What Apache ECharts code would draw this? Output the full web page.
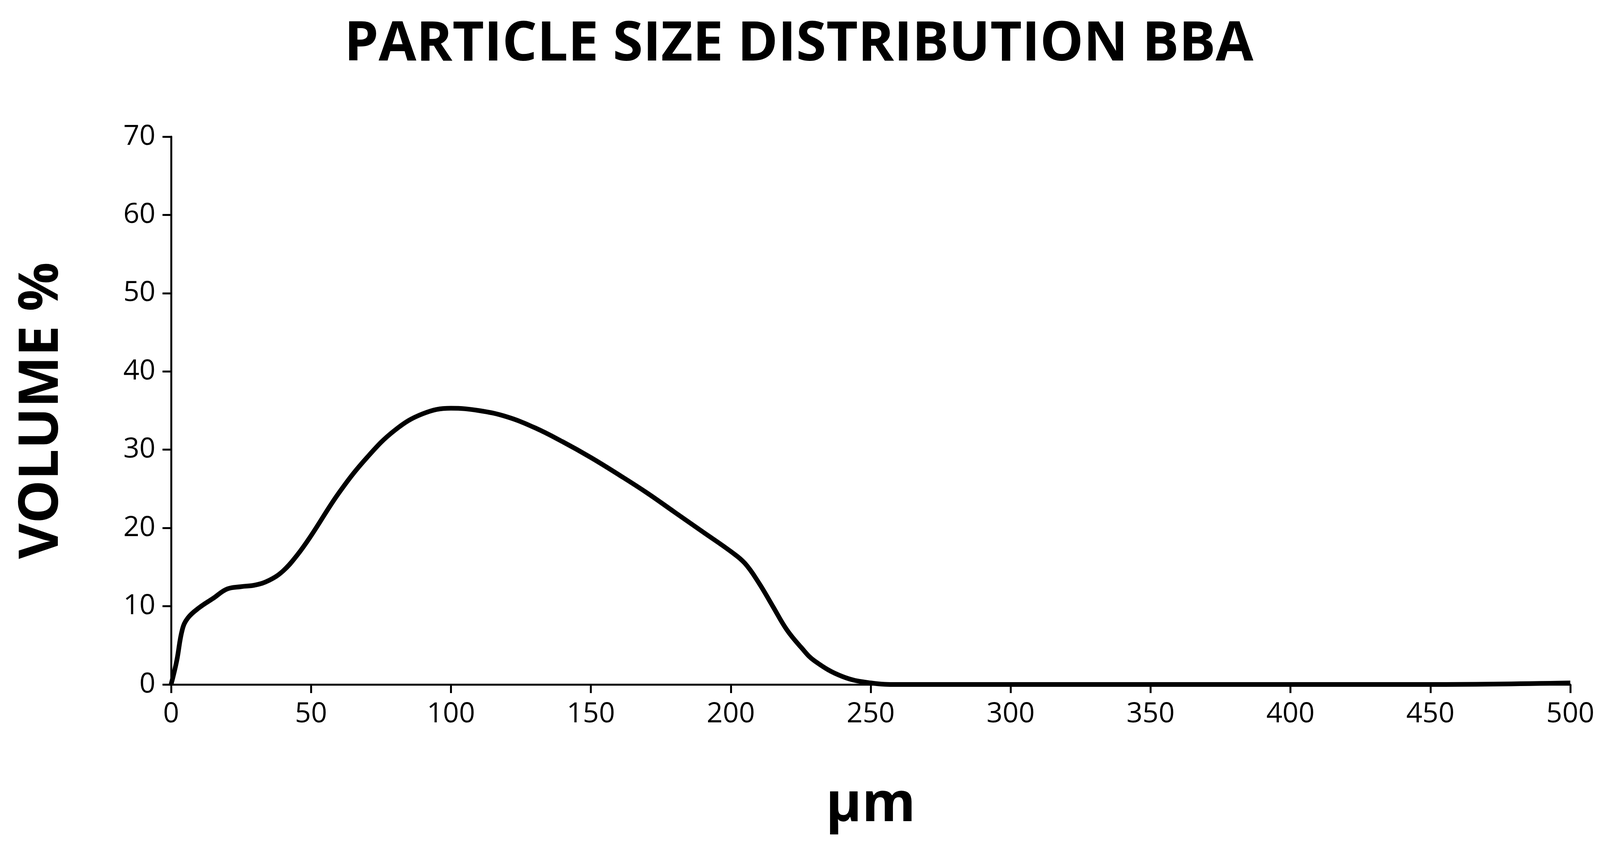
<!DOCTYPE html><html><head><meta charset="utf-8"><script src="https://cdn.jsdelivr.net/npm/echarts@6/dist/echarts.min.js"></script>
<style>html,body{margin:0;background:#fff}#c{width:4141px;height:2223px}</style></head><body><div id="c"></div><script>
const sizes=[0,2,4,6,10,15,20,25,30,35,40,45,50,60,70,80,90,100,110,120,130,140,150,160,170,180,190,200,205,210,215,220,225,230,240,250,260,300,400,450,500];
const volume=[0,3,7,8.5,9.8,11,12.2,12.5,12.7,13.3,14.5,16.5,19,24.5,29,32.5,34.6,35.3,35,34.2,32.8,31,29,26.8,24.5,22,19.5,17,15.5,13,10,7,4.8,3,1,0.2,0,0,0,0,0.2];
const title='PARTICLE SIZE DISTRIBUTION BBA';
const ch=echarts.init(document.getElementById('c'));
const font='"Open Sans", "Noto Sans", sans-serif';
ch.setOption({animation:false,
title:{text:title,left:2040,top:40,textAlign:'center',textStyle:{fontFamily:font,fontSize:140,fontWeight:'bold',color:'#000'}},
grid:{left:438,right:121,top:350,bottom:470},
xAxis:{type:'value',min:0,max:500,interval:50,name:'μm',nameLocation:'middle',nameGap:240,nameTextStyle:{fontFamily:font,fontSize:140,fontWeight:'bold',color:'#000'},
axisLine:{lineStyle:{color:'#000',width:5}},axisTick:{length:22,inside:false,lineStyle:{width:5,color:'#000'}},splitLine:{show:false},
axisLabel:{fontFamily:font,fontSize:72,color:'#000',margin:40}},
yAxis:{type:'value',min:0,max:70,interval:10,name:'VOLUME %',nameLocation:'middle',nameGap:260,nameTextStyle:{fontFamily:font,fontSize:140,fontWeight:'bold',color:'#000'},
axisLine:{show:true,lineStyle:{color:'#000',width:5}},axisTick:{show:true,length:22,lineStyle:{width:5,color:'#000'}},splitLine:{show:false},
axisLabel:{fontFamily:font,fontSize:72,color:'#000',margin:40}},
series:[{type:'line',smooth:0.4,showSymbol:false,data:sizes.map((s,i)=>[s,volume[i]]),lineStyle:{color:'#000',width:12}}]});
</script></body></html>
